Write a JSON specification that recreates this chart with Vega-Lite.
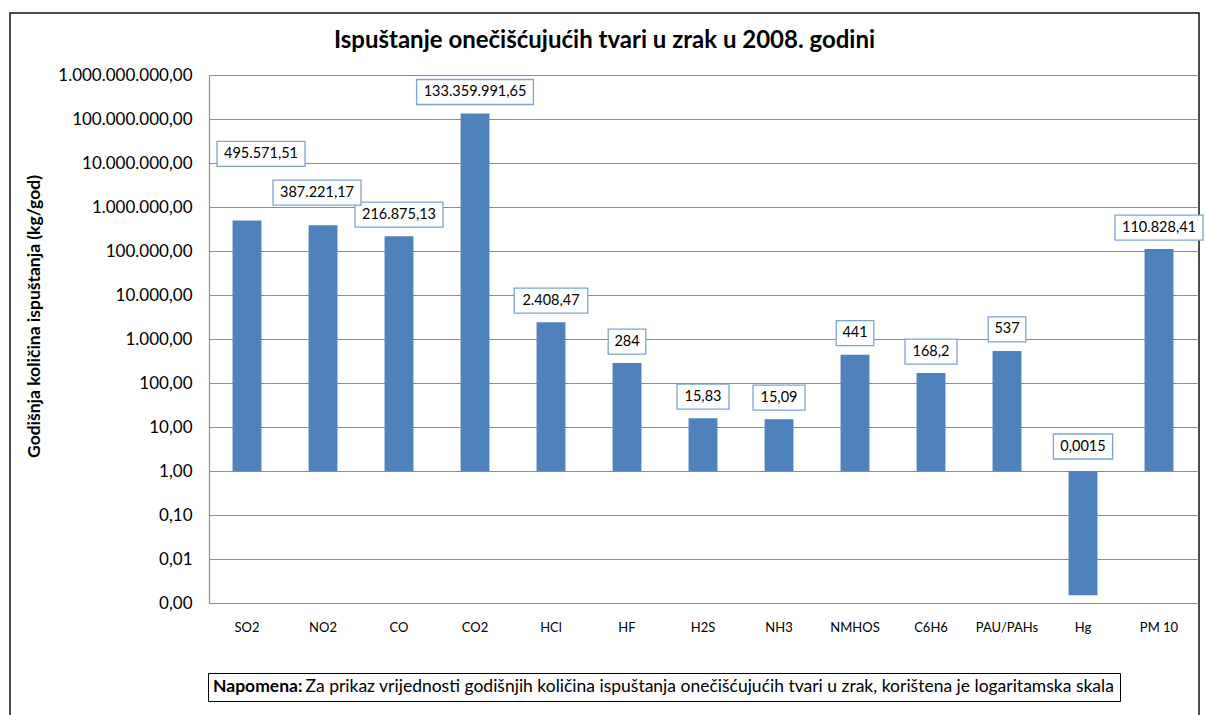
{
  "$schema": "https://vega.github.io/schema/vega-lite/v6.json",
  "width": 1189,
  "height": 710,
  "autosize": {"type": "none"},
  "padding": {"left": 10, "top": 13, "right": 7, "bottom": 0},
  "background": "white",
  "config": {
    "view": {"stroke": "#111111", "strokeWidth": 1.5},
    "locale": {"number": {"decimal": ",", "thousands": ".", "grouping": [3], "currency": ["", ""]}},
    "font": "Lato"
  },
  "title": {
    "text": "Ispuštanje onečišćujućih tvari u zrak u 2008. godini",
    "font": "Lato", "fontSize": 24, "fontWeight": "bold", "color": "#000000",
    "anchor": "middle", "frame": "group", "offset": -40
  },
  "data": {"values": [
    {"cat": "SO2", "v": 495571.51, "label": "495.571,51"},
    {"cat": "NO2", "v": 387221.17, "label": "387.221,17"},
    {"cat": "CO", "v": 216875.13, "label": "216.875,13"},
    {"cat": "CO2", "v": 133359991.65, "label": "133.359.991,65"},
    {"cat": "HCl", "v": 2408.47, "label": "2.408,47"},
    {"cat": "HF", "v": 284, "label": "284"},
    {"cat": "H2S", "v": 15.83, "label": "15,83"},
    {"cat": "NH3", "v": 15.09, "label": "15,09"},
    {"cat": "NMHOS", "v": 441, "label": "441"},
    {"cat": "C6H6", "v": 168.2, "label": "168,2"},
    {"cat": "PAU/PAHs", "v": 537, "label": "537"},
    {"cat": "Hg", "v": 0.0015, "label": "0,0015"},
    {"cat": "PM 10", "v": 110828.41, "label": "110.828,41"}
  ]},
  "encoding": {
    "x": {
      "field": "cat", "type": "nominal", "sort": null,
      "scale": {"range": [199, 1187], "paddingInner": 0.62, "paddingOuter": 0.31},
      "axis": {
        "orient": "bottom", "offset": -120, "domain": false, "ticks": false, "tickSize": 0,
        "grid": false, "title": null, "labelAngle": 0, "labelFont": "Lato",
        "labelFontSize": 13, "labelColor": "#000000", "labelPadding": 18
      }
    }
  },
  "layer": [
    {
      "mark": {"type": "bar"},
      "encoding": {
        "y": {
          "field": "v", "type": "quantitative",
          "scale": {"type": "log", "domain": [0.001, 1000000000], "range": [590, 62], "nice": false, "zero": false},
          "axis": {
            "orient": "left", "offset": -199,
            "values": [0.001, 0.01, 0.1, 1, 10, 100, 1000, 10000, 100000, 1000000, 10000000, 100000000, 1000000000],
            "format": ",.2f", "grid": true, "gridColor": "#8c8c8c", "gridWidth": 1.2,
            "domain": true, "domainColor": "#8c8c8c", "domainWidth": 1.2,
            "ticks": false, "tickSize": 0, "labelPadding": 17, "labelFont": "Lato",
            "labelFontSize": 17, "labelColor": "#000000", "labelFlush": false, "labelOverlap": false,
            "title": "Godišnja količina ispuštanja (kg/god)", "titleFont": "Lato",
            "titleFontSize": 17.5, "titleFontWeight": "bold", "titleColor": "#000000",
            "titleX": -175, "titleY": 303, "titleBaseline": "middle", "titleAlign": "center"
          }
        },
        "y2": {"datum": 1},
        "color": {
          "datum": "Za prikaz vrijednosti godišnjih količina ispuštanja onečišćujućih tvari u zrak, korištena je logaritamska skala",
          "type": "nominal",
          "scale": {"range": ["#4F81BD"]},
          "legend": {
            "orient": "none", "legendX": 198, "legendY": 660,
            "title": "Napomena:", "titleOrient": "left", "titleFont": "Lato",
            "titleFontSize": 17.5, "titleFontWeight": "bold", "titleColor": "#000000", "titlePadding": 0,
            "labelFont": "Lato", "labelFontSize": 17.5, "labelColor": "#000000", "labelLimit": 2000,
            "labelOffset": -15, "symbolType": "square", "symbolSize": 1, "symbolOpacity": 0,
            "symbolStrokeWidth": 0, "strokeColor": "#000000", "fillColor": "#ffffff", "padding": 5
          }
        }
      }
    },
    {
      "transform": [{"filter": "datum.cat !== 'SO2' && datum.cat !== 'NO2' && datum.cat !== 'Hg'"}],
      "layer": [
        {
          "mark": {"type": "bar", "fill": "#ffffff", "stroke": "#7DA4D6", "strokeWidth": 1.3,
                   "width": {"expr": "length(datum.label) * 7.2 + 16"}, "yOffset": -34, "y2Offset": -9},
          "encoding": {"y": {"field": "v", "type": "quantitative"}, "y2": {"field": "v"}}
        },
        {
          "mark": {"type": "text", "font": "Lato", "fontSize": 14.5, "color": "#000000",
                   "dy": -21.5, "baseline": "middle", "align": "center"},
          "encoding": {"y": {"field": "v", "type": "quantitative"}, "text": {"field": "label"}}
        }
      ]
    },
    {
      "transform": [{"filter": "datum.cat === 'SO2'"}],
      "layer": [
        {
          "mark": {"type": "bar", "fill": "#ffffff", "stroke": "#7DA4D6", "strokeWidth": 1.3,
                   "width": {"expr": "length(datum.label) * 7.2 + 16"}, "xOffset": 14, "yOffset": -79, "y2Offset": -54},
          "encoding": {"y": {"field": "v", "type": "quantitative"}, "y2": {"field": "v"}}
        },
        {
          "mark": {"type": "text", "font": "Lato", "fontSize": 14.5, "color": "#000000",
                   "dx": 14, "dy": -66.5, "baseline": "middle", "align": "center"},
          "encoding": {"y": {"field": "v", "type": "quantitative"}, "text": {"field": "label"}}
        }
      ]
    },
    {
      "transform": [{"filter": "datum.cat === 'NO2'"}],
      "layer": [
        {
          "mark": {"type": "bar", "fill": "#ffffff", "stroke": "#7DA4D6", "strokeWidth": 1.3,
                   "width": {"expr": "length(datum.label) * 7.2 + 16"}, "xOffset": -6, "yOffset": -45, "y2Offset": -20},
          "encoding": {"y": {"field": "v", "type": "quantitative"}, "y2": {"field": "v"}}
        },
        {
          "mark": {"type": "text", "font": "Lato", "fontSize": 14.5, "color": "#000000",
                   "dx": -6, "dy": -32.5, "baseline": "middle", "align": "center"},
          "encoding": {"y": {"field": "v", "type": "quantitative"}, "text": {"field": "label"}}
        }
      ]
    },
    {
      "transform": [{"filter": "datum.cat === 'Hg'"}],
      "layer": [
        {
          "mark": {"type": "bar", "fill": "#ffffff", "stroke": "#7DA4D6", "strokeWidth": 1.3,
                   "width": {"expr": "length(datum.label) * 7.2 + 16"}, "yOffset": -37, "y2Offset": -12},
          "encoding": {"y": {"datum": 1}, "y2": {"datum": 1}}
        },
        {
          "mark": {"type": "text", "font": "Lato", "fontSize": 14.5, "color": "#000000",
                   "dy": -24.5, "baseline": "middle", "align": "center"},
          "encoding": {"y": {"datum": 1}, "text": {"field": "label"}}
        }
      ]
    }
  ]
}
